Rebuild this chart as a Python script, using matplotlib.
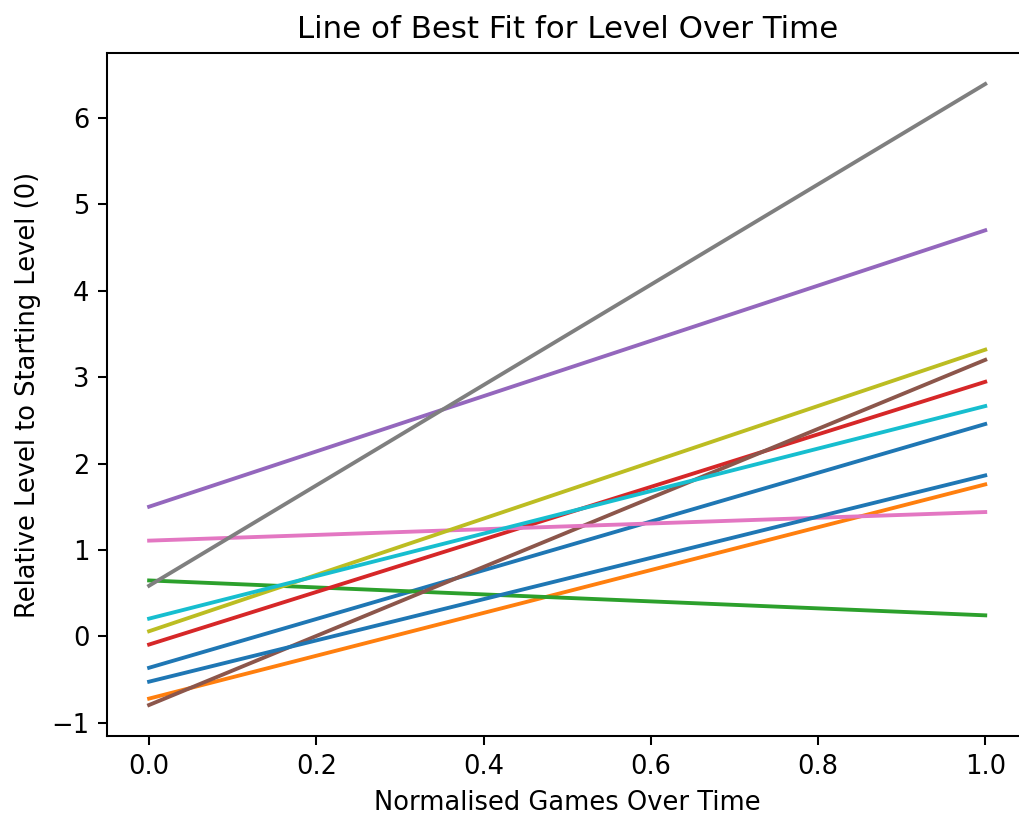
import numpy as np
import matplotlib
matplotlib.use("Agg")
import matplotlib.pyplot as plt

# Start (x=0) and end (x=1) of each fitted line, in plotting order
x_range = [0.0, 1.0]
starts = [-0.365, -0.722, 0.646, -0.096, 1.50, -0.796, 1.107, 0.585, 0.058, 0.204, -0.526]
ends = [2.457, 1.758, 0.242, 2.946, 4.70, 3.20, 1.438, 6.394, 3.318, 2.665, 1.862]

dpi = 185
fig = plt.figure(figsize=(1019 / dpi, 820 / dpi), dpi=dpi)
# axes runs past the right edge, as in the cropped original
ax = fig.add_axes([0.1053, 0.1024, 0.9026, 0.833])

for s, e in zip(starts, ends):
    ax.plot(x_range, [s, e])

ax.set_title("Line of Best Fit for Level Over Time")
ax.set_xlabel("Normalised Games Over Time")
ax.set_ylabel("Relative Level to Starting Level (0)")

fig.savefig("out.png", dpi=dpi)
